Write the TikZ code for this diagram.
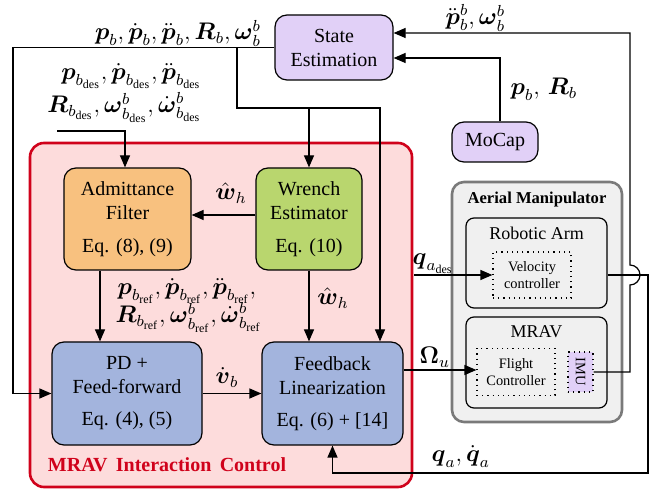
\documentclass[tikz,border=0pt]{standalone}
\usepackage{amsmath}
\usepackage{fontspec}
\setmainfont{Liberation Serif}
\usepackage{tikz}
\usepackage{xcolor}
\usetikzlibrary{arrows.meta, calc}

\definecolor{estviolet}{HTML}{E1D0F7}
\definecolor{admorange}{HTML}{F8C17F}
\definecolor{wrgreen}{HTML}{B9D66E}
\definecolor{ctrlblue}{HTML}{A3B4DD}
\definecolor{ctrlpink}{HTML}{FDDCDC}
\definecolor{ctrlred}{HTML}{D0021B}
\definecolor{amfill}{HTML}{F0F0F0}
\definecolor{amgray}{HTML}{7A7A7A}

\begin{document}
\begin{tikzpicture}[x=0.5pt, y=-0.5pt, line width=0.6pt,
    arr/.style={-{Triangle[length=6pt,width=5pt]}},
    block/.style={draw, rounded corners=6pt, align=center, inner sep=0pt},
    dotbox/.style={draw, dotted, align=center, inner sep=0pt, font=\fontsize{7.2}{8.6}\selectfont},
    lbl/.style={inner sep=0pt, font=\fontsize{12}{14}\selectfont}]
      \useasboundingbox (0,0) rectangle (659,491);

      \node[draw=ctrlred, fill=ctrlpink, line width=1.3pt, rounded corners=7pt,
            minimum width=191pt, minimum height=172pt, inner sep=0pt] (ctrl) at (221,315) {};
      \node[text=ctrlred, font=\bfseries] (ctrltitle) at (167,465) {MRAV\, Interaction\, Control};

      \node[draw=amgray, fill=amfill, line width=1.3pt, rounded corners=6pt,
            minimum width=85pt, minimum height=120pt, inner sep=0pt] (am) at (537,302) {};
      \node[font=\fontsize{8.3}{10}\selectfont\bfseries] (amtitle) at (537,200) {Aerial Manipulator};
      \node[draw, rounded corners=4pt, minimum width=70.5pt, minimum height=45pt, inner sep=0pt] (ra) at (536.5,263) {};
      \node[font=\small] (ratitle) at (536.5,233) {Robotic Arm};
      \node[draw, rounded corners=4pt, minimum width=70.5pt, minimum height=45.5pt, inner sep=0pt] (mrav) at (536.5,362.5) {};
      \node[font=\small] (mravtitle) at (536.5,332) {MRAV};
      \node[dotbox, minimum width=39pt, minimum height=23pt] (vc) at (532,275) {Velocity\\controller};
      \node[dotbox, minimum width=39pt, minimum height=23.5pt] (fc) at (516,372) {Flight\\Controller};
      \node[dotbox, fill=estviolet, minimum width=12.5pt, minimum height=20pt] (imu) at (580.5,372) {\rotatebox{-90}{IMU}};

      \node[block, fill=estviolet, minimum width=59pt, minimum height=32.5pt] (se) at (334,47.5) {State\\Estimation};
      \node[block, fill=estviolet, minimum width=43pt, minimum height=20pt] (mc) at (495,142) {MoCap};
      \node[block, fill=admorange, minimum width=63.5pt, minimum height=51pt] (af) at (127.5,219) {Admittance\\Filter\\[4.5pt]Eq. (8), (9)};
      \node[block, fill=wrgreen, minimum width=53pt, minimum height=51pt] (we) at (309,219) {Wrench\\Estimator\\[4.5pt]Eq. (10)};
      \node[block, fill=ctrlblue, minimum width=75pt, minimum height=51.5pt] (pd) at (127,393.5) {PD +\\Feed-forward\\[4pt]Eq. (4), (5)};
      \node[block, fill=ctrlblue, minimum width=70.5pt, minimum height=51.5pt] (fl) at (332.5,393.5) {Feedback\\Linearization\\[4pt]Eq. (6) + [14]};

      \node[lbl, anchor=base] (fblbl) at (178,40) {$\boldsymbol{p}_b, \dot{\boldsymbol{p}}_b, \ddot{\boldsymbol{p}}_b, \boldsymbol{R}_b, \boldsymbol{\omega}_b^b$};
      \node[lbl, anchor=base east] (deslbl) at (202,80) {$\boldsymbol{p}_{b_\mathrm{des}}, \dot{\boldsymbol{p}}_{b_\mathrm{des}}, \ddot{\boldsymbol{p}}_{b_\mathrm{des}}$};
      \node[lbl, anchor=base east] (deslbltwo) at (202,113) {$\boldsymbol{R}_{b_\mathrm{des}}, \boldsymbol{\omega}^b_{b_\mathrm{des}}, \dot{\boldsymbol{\omega}}^b_{b_\mathrm{des}}$};
      \node[lbl, anchor=base] (wlbl) at (231,200) {$\hat{\boldsymbol{w}}_h$};
      \node[lbl, anchor=base west] (reflbl) at (117,295) {$\boldsymbol{p}_{b_\mathrm{ref}}, \dot{\boldsymbol{p}}_{b_\mathrm{ref}}, \ddot{\boldsymbol{p}}_{b_\mathrm{ref}},$};
      \node[lbl, anchor=base west] (reflbltwo) at (115,323) {$\boldsymbol{R}_{b_\mathrm{ref}}, \boldsymbol{\omega}^b_{b_\mathrm{ref}}, \dot{\boldsymbol{\omega}}^b_{b_\mathrm{ref}}$};
      \node[lbl, anchor=base] (wlbltwo) at (333,305) {$\hat{\boldsymbol{w}}_h$};
      \node[lbl, anchor=base] (vlbl) at (227,384) {$\dot{\boldsymbol{v}}_b$};
      \node[lbl, anchor=base west] (omlbl) at (419,364) {$\boldsymbol{\Omega}_u$};
      \node[lbl, anchor=base west] (qdeslbl) at (412,265) {$\boldsymbol{q}_{a_\mathrm{des}}$};
      \node[lbl, anchor=base west] (qlbl) at (431,462) {$\boldsymbol{q}_a, \dot{\boldsymbol{q}}_a$};
      \node[lbl, anchor=base west] (imulbl) at (445,25) {$\ddot{\boldsymbol{p}}_b^b, \boldsymbol{\omega}_b^b$};
      \node[lbl, anchor=base west] (mclbl) at (510,95) {$\boldsymbol{p}_b,\, \boldsymbol{R}_b$};

      \coordinate (fbcorner) at (13,47.5);
      \coordinate (fbtap) at (237,47.5);
      \coordinate (fbbus) at (237,108);
      \coordinate (desin) at (57,131);
      \coordinate (afout) at ($(af.south)+(-27.5,0)$);
      \coordinate (flout) at ($(fl.east)+(0,-23.5)$);
      \coordinate (qdesin) at (414,275);
      \coordinate (raout) at (ra.east |- vc.east);
      \coordinate (qret) at (648,473);
      \coordinate (imuup) at (630,372);
      \coordinate (hopin) at (630,285);
      \coordinate (setop) at (630,33);
      \coordinate (mcout) at ($(mc.north)+(5,0)$);

      \draw[arr] (se.west) -- (fbcorner) |- (pd.west);
      \draw[arr] (fbtap) -- (fbbus) -| ($(fl.north)+(47.5,0)$);
      \draw[arr] (fbbus -| we.north) -- (we.north);
      \draw[arr] (desin) -| ($(af.north)+(-2.5,0)$);
      \draw[arr] ($(we.west)+(0,-4)$) -- ($(af.east)+(0,-4)$);
      \draw[arr] (afout) -- (afout |- pd.north);
      \draw[arr] (we.south) -- (we.south |- fl.north);
      \draw[arr] (pd.east) -- (fl.west);
      \draw[arr] (flout) -- (flout -| fc.west);
      \draw[arr] (qdesin) -- (vc.west);
      \draw[arr] (raout) -| (qret) -| (fl.south);
      \draw[arr] (imu.east) -- (imuup) -- (hopin) arc[start angle=-90, end angle=90, radius=5pt] -- (setop) -- (setop -| se.east);
      \draw[arr] (mcout) |- ($(se.east)+(0,10.5)$);
    \end{tikzpicture}
\end{document}
